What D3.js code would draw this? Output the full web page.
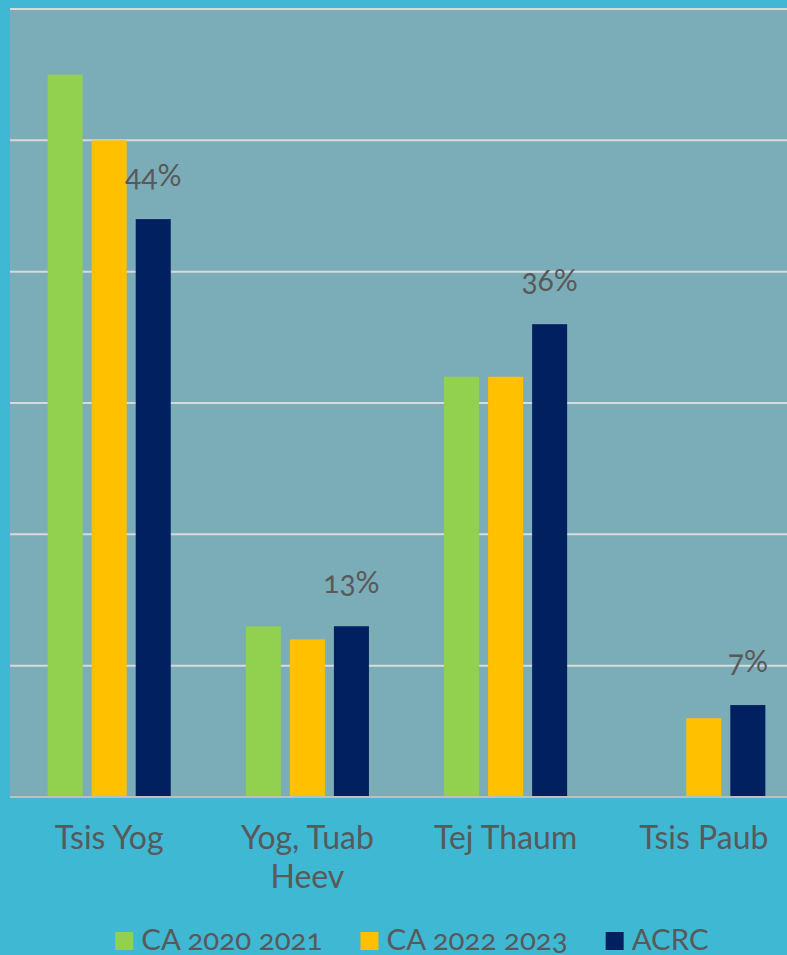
<!DOCTYPE html>
<html>
<head>
<meta charset="utf-8">
<script src="https://cdn.jsdelivr.net/npm/d3@7"></script>
<style>
  html, body { margin: 0; padding: 0; background: #3fb8d3; }
  svg { display: block; font-family: Lato, 'Open Sans', sans-serif; font-variant-numeric: oldstyle-nums; font-feature-settings: 'onum'; }
  text { fill: #595959; }
</style>
</head>
<body>
<svg id="chart"></svg>
<script>
const categories = ['Tsis Yog', 'Yog, Tuab Heev', 'Tej Thaum', 'Tsis Paub']
const series = ['CA 2020 2021', 'CA 2022 2023', 'ACRC']
const ca2021 = [55, 13, 32, 0]
const ca2023 = [50, 12, 32, 6]
const acrc = [44, 13, 36, 7]
const yTicks = [0, 10, 20, 30, 40, 50, 60]
// only the ACRC series carries data labels
const labelled = 'ACRC'

const colors = { 'CA 2020 2021': '#92d050', 'CA 2022 2023': '#ffc000', ACRC: '#002060' }
const values = { 'CA 2020 2021': ca2021, 'CA 2022 2023': ca2023, ACRC: acrc }

const W = 787
const H = 955
const plot = { left: 10, right: 803, top: 9, bottom: 797 }

const svg = d3.select('#chart').attr('width', W).attr('height', H)

svg.append('rect').attr('width', W).attr('height', H).attr('fill', '#3fb8d3')
svg.append('rect')
  .attr('x', plot.left).attr('y', plot.top)
  .attr('width', plot.right - plot.left).attr('height', plot.bottom - plot.top)
  .attr('fill', '#7badb8')

const x = d3.scaleBand().domain(categories).range([plot.left, plot.right])
  .paddingInner(0.379).paddingOuter(0.19)
const xs = d3.scaleBand().domain(series).range([0, x.bandwidth()]).paddingInner(0.2045)
const y = d3.scaleLinear().domain([0, 60]).range([plot.bottom, plot.top])

// gridlines
svg.append('g').selectAll('line')
  .data(yTicks.filter(t => t > 0))
  .join('line')
  .attr('x1', plot.left).attr('x2', plot.right)
  .attr('y1', d => y(d)).attr('y2', d => y(d))
  .attr('stroke', '#d9d9d9').attr('stroke-width', 2)

// bars
const rows = []
categories.forEach((c, i) => series.forEach(s => rows.push({ cat: c, series: s, value: values[s][i] })))

svg.append('g').selectAll('rect')
  .data(rows.filter(d => d.value > 0))
  .join('rect')
  .attr('x', d => x(d.cat) + xs(d.series))
  .attr('y', d => y(d.value))
  .attr('width', xs.bandwidth())
  .attr('height', d => y(0) - y(d.value))
  .attr('fill', d => colors[d.series])

// baseline
svg.append('line')
  .attr('x1', plot.left).attr('x2', plot.right)
  .attr('y1', y(0)).attr('y2', y(0))
  .attr('stroke', '#bfbfbf').attr('stroke-width', 2)

// data labels
svg.append('g').selectAll('text')
  .data(rows.filter(d => d.series === labelled))
  .join('text')
  .attr('x', d => x(d.cat) + xs(d.series) + xs.bandwidth() / 2)
  .attr('y', d => y(d.value) - 33)
  .attr('text-anchor', 'middle')
  .attr('font-size', 30)
  .text(d => d.value + '%')

// category axis labels, wrapped to fit the band
const xAxis = svg.append('g')
categories.forEach(c => {
  const t = xAxis.append('text')
    .attr('x', x(c) + x.bandwidth() / 2)
    .attr('y', 849)
    .attr('text-anchor', 'middle')
    .attr('font-size', 32)
  const lines = c === 'Yog, Tuab Heev' ? ['Yog, Tuab', 'Heev'] : [c]
  lines.forEach((l, i) => {
    t.append('tspan').attr('x', x(c) + x.bandwidth() / 2).attr('dy', i ? 39 : 0).text(l)
  })
})

// legend
const legend = svg.append('g')
let lx = 0
series.forEach(s => {
  const g = legend.append('g')
  g.append('rect').attr('x', 0).attr('y', -18).attr('width', 18).attr('height', 18).attr('fill', colors[s])
  const t = g.append('text').attr('x', 26).attr('y', 0).attr('font-size', 29.5).text(s)
  const w = 26 + t.node().getComputedTextLength()
  g.attr('transform', `translate(${lx},0)`)
  lx += w + 38
})
const total = lx - 38
legend.attr('transform', `translate(${412 - total / 2},950)`)
</script>
</body>
</html>
